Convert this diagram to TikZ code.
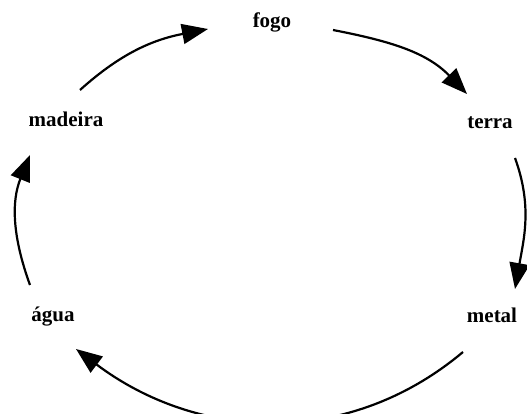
\documentclass[tikz,border=0pt]{standalone}
\usepackage{fontspec}
\setmainfont{Liberation Serif}
\usetikzlibrary{arrows.meta}
\begin{document}
\begin{tikzpicture}[x=1pt,y=1pt,
  lbl/.style={font=\fontsize{21}{23}\selectfont\bfseries, anchor=base, inner sep=0pt},
  conn/.style={line width=2.2pt, -{Triangle[length=26pt,width=20pt]}}]
\useasboundingbox (0,0) rectangle (527,414);
\node[lbl] (fogo) at (272,386) {fogo};
\node[lbl] (terra) at (490,285) {terra};
\node[lbl] (metal) at (492,91) {metal};
\node[lbl] (agua) at (53,92) {água};
\node[lbl] (madeira) at (66,287) {madeira};
\coordinate (a1s) at (80,324);
\coordinate (a1e) at (208,385);
\coordinate (a2s) at (333,384);
\coordinate (a2e) at (467,320);
\coordinate (a3s) at (515,256);
\coordinate (a3e) at (515,125);
\coordinate (a4s) at (463,62);
\coordinate (a4e) at (76,65);
\coordinate (a5s) at (30,129);
\coordinate (a5e) at (30,259);
\draw[conn] (a1s) to[out=42,in=191] (a1e);
\draw[conn] (a2s) to[out=-11,in=134] (a2e);
\draw[conn] (a3s) to[out=-70,in=80] (a3e);
\draw[conn] (a4s) to[out=-140,in=-37] (a4e);
\draw[conn] (a5s) to[out=110,in=-112] (a5e);
\end{tikzpicture}
\end{document}
